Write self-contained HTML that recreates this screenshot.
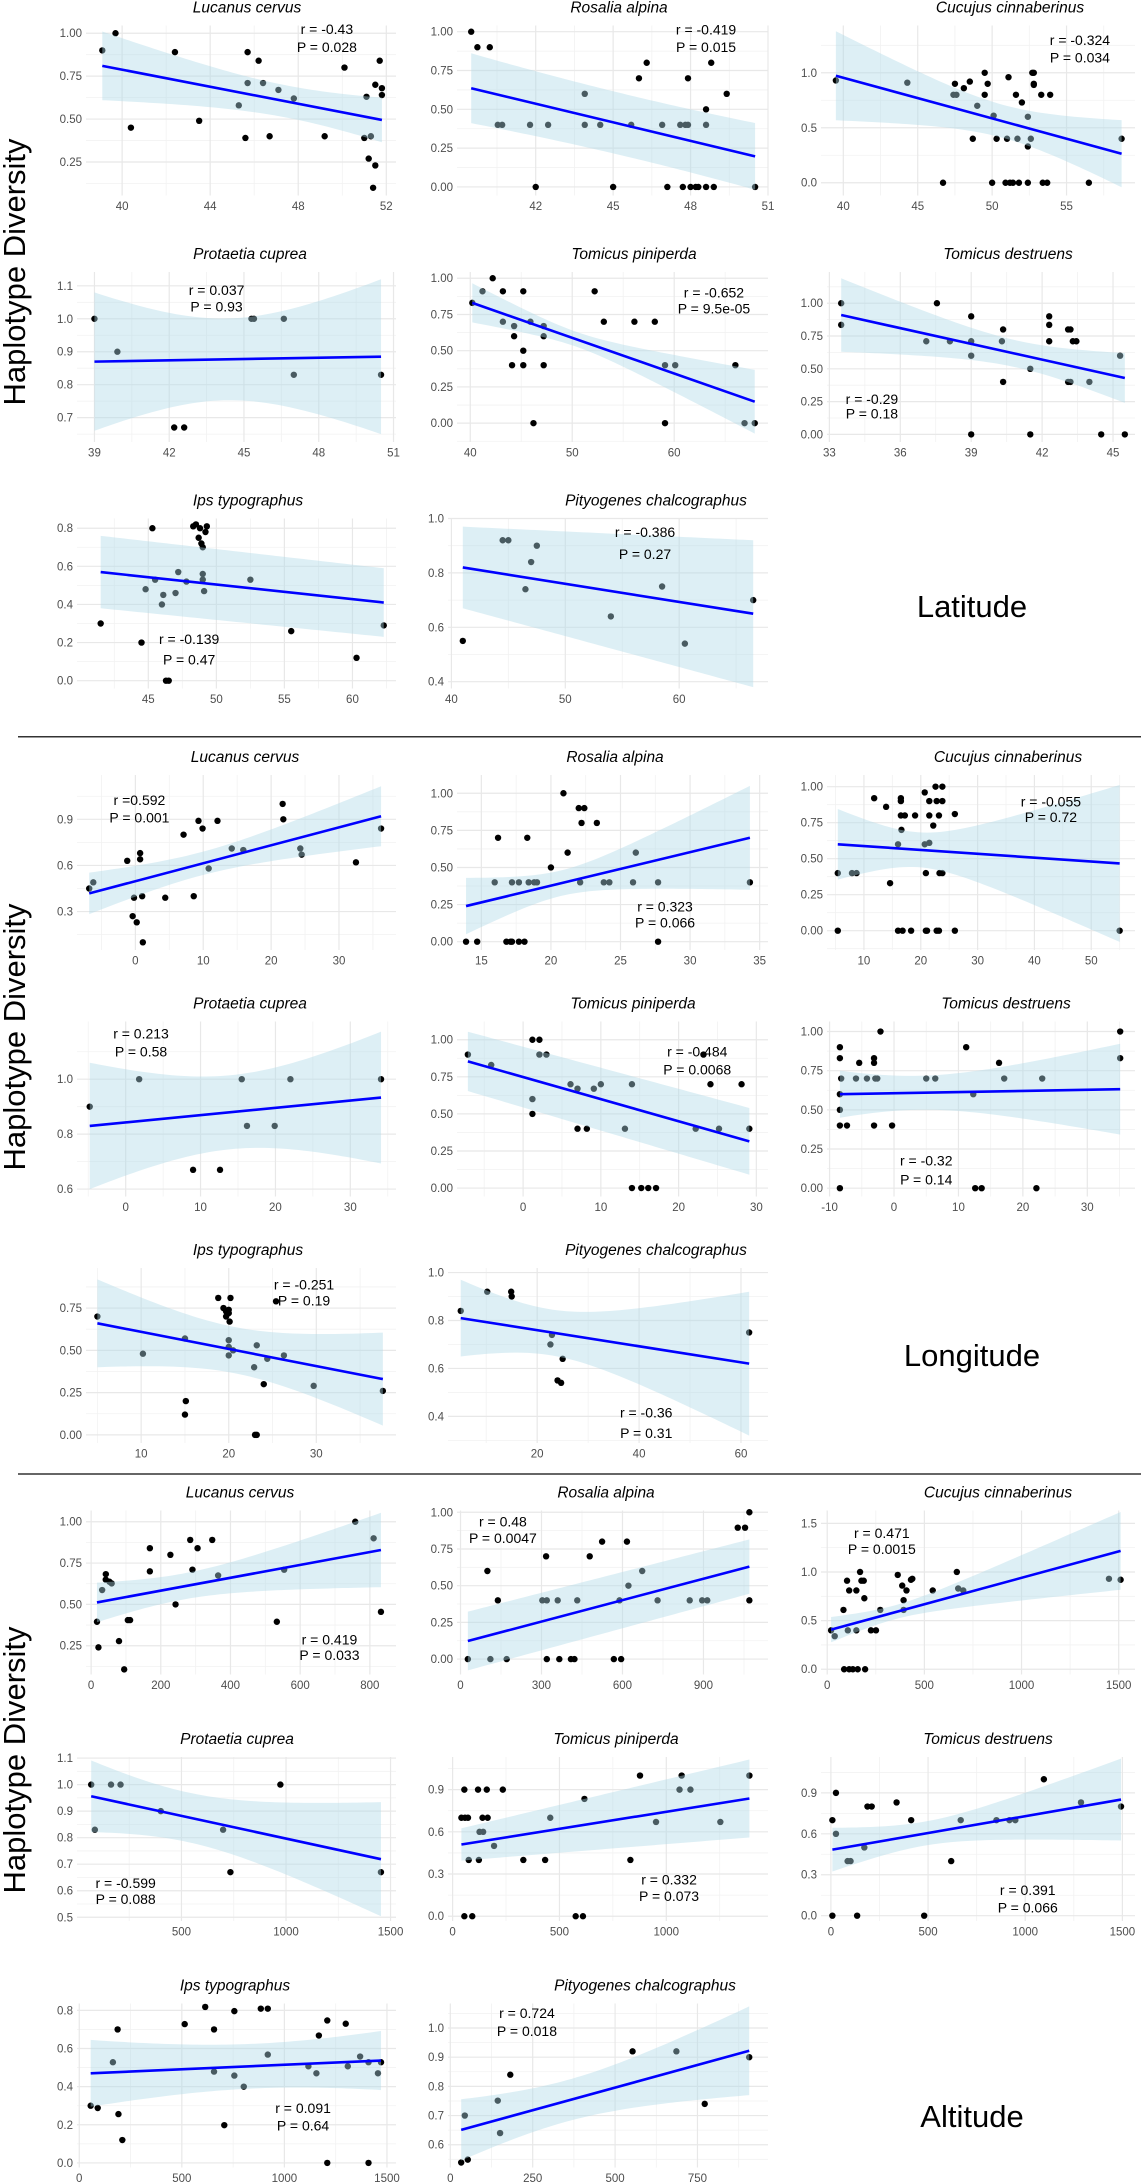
<!DOCTYPE html>
<html><head><meta charset="utf-8"><title>Haplotype diversity vs latitude, longitude and altitude</title>
<style>
html,body{margin:0;padding:0;background:#fff;}
svg{display:block;font-family:"Liberation Sans",Arial,sans-serif;}
</style></head>
<body>
<svg id="fig" width="1141" height="2184" viewBox="0 0 1141 2184" xmlns="http://www.w3.org/2000/svg">
<rect x="0" y="0" width="1141" height="2184" fill="#ffffff"/>
<line x1="18" y1="736.7" x2="1141" y2="736.7" stroke="#333" stroke-width="1.5"/>
<line x1="18" y1="1474" x2="1141" y2="1474" stroke="#333" stroke-width="1.5"/>
<text transform="translate(25,272) rotate(-90)" text-anchor="middle" font-size="31" fill="#000">Haplotype Diversity</text>
<text transform="translate(25,1037) rotate(-90)" text-anchor="middle" font-size="31" fill="#000">Haplotype Diversity</text>
<text transform="translate(25,1760) rotate(-90)" text-anchor="middle" font-size="31" fill="#000">Haplotype Diversity</text>
<text x="972" y="617" text-anchor="middle" font-size="31" fill="#000">Latitude</text>
<text x="972" y="1366" text-anchor="middle" font-size="31" fill="#000">Longitude</text>
<text x="972" y="2127" text-anchor="middle" font-size="31" fill="#000">Altitude</text>
<defs id="defs"></defs>
</svg>
<script>
// ---------- data arrays ----------
const lucLatX=[39.1,39.7,40.4,42.4,43.5,45.3,45.6,45.7,45.7,46.2,46.4,46.7,47.1,47.8,49.2,50.1,51.0,51.1,51.2,51.3,51.4,51.5,51.5,51.7,51.8,51.8];
const lucLatY=[0.90,1.00,0.45,0.89,0.49,0.58,0.39,0.89,0.71,0.84,0.71,0.40,0.67,0.62,0.40,0.80,0.39,0.63,0.27,0.40,0.10,0.23,0.70,0.84,0.64,0.68];
const rosLatX=[39.5,39.74,40.22,40.53,40.7,41.78,42.48,43.9,43.9,44.5,45.7,46.0,46.3,46.9,47.6,47.8,47.9,47.9,48.6,48.6,48.8,49.4,42.0,45.0,47.1,47.7,48.0,48.2,48.3,48.6,48.9,50.5];
const rosLatY=[1,0.9,0.9,0.4,0.4,0.4,0.4,0.6,0.4,0.4,0.4,0.7,0.8,0.4,0.4,0.4,0.4,0.7,0.4,0.5,0.8,0.6,0,0,0,0,0,0,0,0,0,0];
const cucLatX=[39.5,44.3,46.7,47.4,47.6,47.5,48.1,48.5,48.7,49.0,49.5,49.5,49.7,50.0,50.1,50.3,50.9,51.0,51.1,51.2,51.4,51.6,51.7,51.8,52.0,52.4,52.4,52.4,52.6,52.7,52.8,52.8,52.8,53.3,53.4,53.7,53.9,56.5,58.7];
const cucLatY=[0.93,0.91,0,0.80,0.80,0.90,0.86,0.92,0.40,0.70,1.0,0.80,0.90,0,0.61,0.40,0,0.40,0.96,0,0,0.80,0.40,0,0.73,0.33,0.60,0,0.40,1.0,1.0,0.90,0.89,0.80,0,0,0.80,0,0.40];
const proLatX=[39.0,39.92,42.2,42.6,45.3,45.4,46.6,47.0,50.5];
const proLatY=[1,0.9,0.67,0.67,1,1,1,0.83,0.83];
const tpiLatX=[40.2,41.2,42.2,43.2,45.2,52.2,43.2,44.3,45.9,47.2,44.3,47.2,53.1,56.1,58.1,45.2,44.1,45.2,47.2,59.1,60.1,66.0,46.2,59.1,66.9,67.9];
const tpiLatY=[0.83,0.91,1,0.91,0.91,0.91,0.7,0.67,0.7,0.67,0.6,0.6,0.7,0.7,0.7,0.5,0.4,0.4,0.4,0.4,0.4,0.4,0,0,0,0];
const tdeLatX=[33.5,33.5,37.55,39.0,40.35,42.3,42.3,43.1,43.2,37.1,38.1,39.0,40.3,42.3,43.3,43.45,39.0,40.35,41.5,43.1,43.2,44.0,45.3,39.0,41.5,44.5,45.5];
const tdeLatY=[1,0.835,1,0.9,0.8,0.9,0.835,0.8,0.8,0.71,0.71,0.71,0.71,0.71,0.71,0.71,0.6,0.4,0.5,0.4,0.4,0.4,0.6,0,0,0,0];
const ipsLatX=[41.5,44.5,44.8,45.3,45.5,46,46.1,46.3,46.5,47,47.2,47.8,48.3,48.5,48.8,48.7,48.9,49,49,49,49.1,49.2,49.3,52.5,55.5,60.3,62.3];
const ipsLatY=[0.30,0.20,0.48,0.80,0.53,0.40,0.45,0,0,0.46,0.57,0.52,0.81,0.82,0.80,0.75,0.72,0.70,0.56,0.53,0.47,0.78,0.81,0.53,0.26,0.12,0.29];
const pitLatX=[41,44.5,45,46.5,47,47.5,54,58.5,60.5,66.5];
const pitLatY=[0.55,0.92,0.92,0.74,0.84,0.90,0.64,0.75,0.54,0.70];

const lucLonX=[-6.8,-6.2,-1.2,-0.4,-0.2,0.2,0.7,0.7,1.0,1.1,4.4,7.1,8.6,9.3,9.9,10.8,12.1,14.2,15.9,21.7,21.8,24.3,24.5,32.5,36.2];
const lucLonY=[0.45,0.49,0.63,0.27,0.39,0.23,0.64,0.68,0.40,0.10,0.39,0.80,0.40,0.89,0.84,0.58,0.89,0.71,0.70,1.0,0.90,0.71,0.67,0.62,0.84];
const rosLonX=[13.9,14.7,15.96,16.2,16.8,17.1,17.2,17.2,17.7,17.7,18.1,18.3,18.4,18.8,19.0,20.0,20.9,21.2,22.0,22.1,22.4,22.2,23.3,23.8,24.2,25.9,26.1,27.7,27.7,34.3];
const rosLonY=[0,0,0.4,0.7,0,0,0.4,0,0.4,0,0,0.7,0.4,0.4,0.4,0.5,1.0,0.6,0.9,0.4,0.9,0.8,0.8,0.4,0.4,0.4,0.6,0.4,0,0.4];
const cucLonX=[5.4,5.4,7.9,8.7,11.8,13.9,14.6,16.0,16.0,16.5,16.5,16.5,16.6,16.8,17.2,18.3,19.0,20.7,20.7,20.9,20.9,21.1,21.5,21.5,21.5,22.2,22.6,22.8,22.8,23.2,23.2,23.3,23.8,23.8,23.8,26.0,26.0,55.0];
const cucLonY=[0.4,0,0.4,0.4,0.92,0.86,0.33,0,0.6,0.92,0.9,0.8,0.7,0,0.8,0,0.8,0.96,0.6,0.4,0,0,0.61,0.8,0.9,0.73,1.0,0.9,0,0,0.8,0.4,1.0,0.4,0.9,0,0.81,0];
const proLonX=[-4.8,1.8,9.0,12.6,15.5,16.2,19.9,22.0,34.1];
const proLonY=[0.9,1,0.67,0.67,1,0.83,0.83,1,1];
const tpiLonX=[-7.1,-4.1,1.2,2.1,2.1,3.0,1.2,1.2,6.1,7.0,7.0,8.2,9.1,10.0,13.1,14.0,14.0,15.2,16.1,17.1,22.2,23.2,24.1,25.2,28.1,29.1];
const tpiLonY=[0.9,0.83,1,1,0.9,0.9,0.6,0.5,0.7,0.67,0.4,0.4,0.67,0.7,0.4,0.7,0,0,0,0,0.4,0.9,0.7,0.4,0.7,0.4];
const tdeLonX=[-8.4,-8.4,-8.2,-8.4,-8.4,-8.4,-7.3,-8.4,-5.9,-5.4,-4.2,-3.1,-3.1,-2.9,-2.6,-3.1,-2.1,-0.3,5.0,6.4,11.2,12.3,12.6,13.6,16.3,17.1,22.1,23.0,35.1,35.1];
const tdeLonY=[0.9,0.83,0.7,0.6,0.5,0.4,0.4,0,0.7,0.8,0.7,0.83,0.8,0.7,0.7,0.4,1,0.4,0.7,0.7,0.9,0.6,0,0,0.8,0.7,0,0.7,1,0.83];
const ipsLonX=[5.0,10.2,15.0,15.1,15.0,18.8,19.4,19.7,19.7,20.0,20.0,20.2,20.1,20.0,20.0,20.0,20.5,22.9,23.0,23.2,23.2,24.0,24.4,25.4,26.3,29.7,37.6];
const ipsLonY=[0.70,0.48,0.57,0.20,0.12,0.81,0.75,0.73,0.70,0.72,0.74,0.81,0.67,0.56,0.52,0.47,0.50,0.40,0,0.53,0,0.30,0.45,0.79,0.47,0.29,0.26];
const pitLonX=[5.0,10.2,14.9,15.0,22.6,22.9,24.0,24.7,25.0,61.6];
const pitLonY=[0.84,0.92,0.92,0.90,0.70,0.74,0.55,0.54,0.64,0.75];

const lucAltX=[16.8,21,31.6,42.2,42,52.7,59,80,94.9,105.4,111.8,168.6,168.6,227.5,242.3,284.4,290.8,305.5,347.6,364.5,533,554,758.1,810.8,831.8];
const lucAltY=[0.395,0.24,0.587,0.683,0.65,0.637,0.627,0.278,0.107,0.405,0.405,0.70,0.84,0.80,0.50,0.89,0.71,0.84,0.89,0.675,0.395,0.71,1.0,0.90,0.455];
const rosAltX=[27.2,99.6,110.7,138.3,171,303,317,319.7,319.7,360,366,409,422,432.4,478.6,524.5,568,589,595,616.5,622,673,730,849,895,914,1027,1054,1070,1070];
const rosAltY=[0,0.6,0,0.4,0,0.4,0.7,0.4,0,0.4,0,0,0,0.4,0.7,0.8,0,0.4,0,0.8,0.5,0.6,0.4,0.4,0.4,0.4,0.895,0.895,1,0.4];
const cucAltX=[19.9,38.6,83.6,87,102,106,113,113,132,150,150,157,169,176,188,191,195,225,251,273,363,386,393,393,408,431,438,543,667,674,700,1450,1510];
const cucAltY=[0.40,0.34,0.61,0,0.91,0.40,0.81,0,0,0.40,0.81,0,1.0,0.91,0.91,0.73,0,0.40,0.40,0.61,0.97,0.86,0.61,0.71,0.81,0.92,0.93,0.81,1.0,0.83,0.81,0.93,0.92];
const proAltX=[68.2,85.7,163,208.5,401,699,734,973,1454];
const proAltY=[1,0.83,1,1,0.9,0.83,0.67,1,0.67];
const tpiAltX=[41.2,58,55,72,75.5,55,92,119,123,126,143,140,160,164,194,235,331,433,457,576,610,617,832,877,952,1062,1072,1113,1253,1389];
const tpiAltY=[0.7,0.7,0.9,0.7,0.4,0,0,0.9,0.4,0.6,0.6,0.7,0.9,0.7,0.5,0.9,0.4,0.4,0.7,0,0,0.834,0.4,1,0.67,0.9,1,0.9,0.67,1];
const tdeAltX=[7.6,7.6,26,26,135,172,86,101,188,210,338,413,480,619,668,852,919,949,1096,1287,1493];
const tdeAltY=[0.7,0,0.9,0.6,0,0.5,0.4,0.4,0.8,0.8,0.83,0.7,0,0.4,0.7,0.7,0.7,0.7,1,0.83,0.8];
const ipsAltX=[55.7,90,164,187,191,210,514,614,657,657,707,756,756,802,885,919,919,1117,1156,1168,1209,1209,1299,1309,1369,1410,1410,1456,1471];
const ipsAltY=[0.30,0.288,0.528,0.70,0.256,0.12,0.728,0.818,0.70,0.479,0.198,0.796,0.458,0.40,0.809,0.809,0.568,0.507,0.47,0.668,0.747,0,0.73,0.507,0.558,0,0.528,0.47,0.528];
const pitAltX=[33,53,44,144,151,182,553,686,772,907];
const pitAltY=[0.539,0.549,0.70,0.751,0.64,0.84,0.92,0.92,0.74,0.90];

// fitted line values at min/max x, and CI half-widths at the ends
const fitLat=[[0.81,0.495],[0.636,0.197],[0.973,0.264],[0.87,0.885],[0.83,0.148],[0.91,0.43],[0.57,0.41],[0.82,0.65]];
const ciLat=[[0.20,0.13],[0.225,0.215],[0.405,0.305],[0.21,0.235],[0.135,0.22],[0.28,0.19],[0.19,0.18],[0.15,0.27]];
const fitLon=[[0.418,0.92],[0.24,0.70],[0.60,0.467],[0.83,0.933],[0.854,0.315],[0.60,0.632],[0.66,0.33],[0.81,0.62]];
const ciLon=[[0.135,0.195],[0.19,0.35],[0.245,0.545],[0.23,0.24],[0.20,0.225],[0.15,0.29],[0.26,0.275],[0.16,0.30]];
const fitAlt=[[0.512,0.829],[0.123,0.63],[0.407,1.217],[0.956,0.719],[0.51,0.837],[0.484,0.851],[0.47,0.537],[0.651,0.922]];
const ciAlt=[[0.12,0.225],[0.20,0.185],[0.13,0.40],[0.135,0.215],[0.115,0.277],[0.16,0.30],[0.175,0.155],[0.105,0.152]];

const rLabels=["r = -0.43","r = -0.419","r = -0.324","r = 0.037","r = -0.652","r = -0.29","r = -0.139","r = -0.386",
 "r =0.592","r = 0.323","r = -0.055","r = 0.213","r = -0.484","r = -0.32","r = -0.251","r = -0.36",
 "r = 0.419","r = 0.48","r = 0.471","r = -0.599","r = 0.332","r = 0.391","r = 0.091","r = 0.724"];
const pLabels=["P = 0.028","P = 0.015","P = 0.034","P = 0.93","P = 9.5e-05","P = 0.18","P = 0.47","P = 0.27",
 "P = 0.001","P = 0.066","P = 0.72","P = 0.58","P = 0.0068","P = 0.14","P = 0.19","P = 0.31",
 "P = 0.033","P = 0.0047","P = 0.0015","P = 0.088","P = 0.073","P = 0.066","P = 0.64","P = 0.018"];
const statX=[49.3,48.6,55.9,43.9,63.9,34.8,48,57, 0.6,28.2,42.9,2.05,22.4,5.0,28.6,41.4, 684,157,281,233,1013,1013,1091,232.6];
const statRY=[1.025,1.015,1.30,1.088,0.90,0.27,0.22,0.95, 1.026,0.236,0.896,1.167,0.92,0.177,0.888,0.417, 0.288,0.936,1.40,0.629,0.26,0.19,0.288,1.051];
const statPY=[0.92,0.90,1.14,1.037,0.79,0.16,0.11,0.87, 0.913,0.128,0.79,1.10,0.80,0.057,0.795,0.33, 0.194,0.823,1.234,0.569,0.142,0.061,0.195,0.99];

const species=["Lucanus cervus","Rosalia alpina","Cucujus cinnaberinus","Protaetia cuprea","Tomicus piniperda","Tomicus destruens","Ips typographus","Pityogenes chalcographus"];
const slugs=["lucanus-cervus","rosalia-alpina","cucujus-cinnaberinus","protaetia-cuprea","tomicus-piniperda","tomicus-destruens","ips-typographus","pityogenes-chalcographus"];
const sections=["latitude","longitude","altitude"];

const xsAll=[lucLatX,rosLatX,cucLatX,proLatX,tpiLatX,tdeLatX,ipsLatX,pitLatX,lucLonX,rosLonX,cucLonX,proLonX,tpiLonX,tdeLonX,ipsLonX,pitLonX,lucAltX,rosAltX,cucAltX,proAltX,tpiAltX,tdeAltX,ipsAltX,pitAltX];
const ysAll=[lucLatY,rosLatY,cucLatY,proLatY,tpiLatY,tdeLatY,ipsLatY,pitLatY,lucLonY,rosLonY,cucLonY,proLonY,tpiLonY,tdeLonY,ipsLonY,pitLonY,lucAltY,rosAltY,cucAltY,proAltY,tpiAltY,tdeAltY,ipsAltY,pitAltY];
const fitAll=fitLat.concat(fitLon,fitAlt);
const ciAll=ciLat.concat(ciLon,ciAlt);

// axis domains and ticks
const xDomains=[[38.36,52.44],[38.95,51.0],[38.5,59.6],[38.3,51.1],[38.7,69.2],[32.9,45.93],[39.76,63.2],[39.7,67.8],
 [-8.6,38.4],[13.25,35.6],[3.5,57.7],[-6.5,36.1],[-8.5,31.5],[-10.4,37.4],[3.7,39.1],[2.5,65.3],
 [-14.7,875],[-13,1139],[-32,1584],[0.3,1526],[-21.5,1476],[-51,1565],[-11,1544],[-7,964]];
const yDomains=[[0.055,1.045],[-0.055,1.04],[-0.116,1.43],[0.626,1.142],[-0.13,1.043],[-0.058,1.238],[-0.041,0.851],[0.375,1.0],
 [0.05,1.188],[-0.056,1.123],[-0.134,1.081],[0.573,1.21],[-0.057,1.123],[-0.053,1.064],[-0.048,0.987],[0.289,1.019],
 [0.076,1.068],[-0.105,1.012],[-0.054,1.632],[0.486,1.104],[-0.034,1.132],[-0.039,1.163],[-0.024,0.836],[0.522,1.084]];
const xTicks=[[40,44,48,52],[42,45,48,51],[40,45,50,55],[39,42,45,48,51],[40,50,60],[33,36,39,42,45],[45,50,55,60],[40,50,60],
 [0,10,20,30],[15,20,25,30,35],[10,20,30,40,50],[0,10,20,30],[0,10,20,30],[-10,0,10,20,30],[10,20,30],[20,40,60],
 [0,200,400,600,800],[0,300,600,900],[0,500,1000,1500],[500,1000,1500],[0,500,1000],[0,500,1000,1500],[0,500,1000,1500],[0,250,500,750]];
const yTicks=[[0.25,0.5,0.75,1],[0,0.25,0.5,0.75,1],[0,0.5,1],[0.7,0.8,0.9,1.0,1.1],[0,0.25,0.5,0.75,1],[0,0.25,0.5,0.75,1],[0,0.2,0.4,0.6,0.8],[0.4,0.6,0.8,1.0],
 [0.3,0.6,0.9],[0,0.25,0.5,0.75,1],[0,0.25,0.5,0.75,1],[0.6,0.8,1.0],[0,0.25,0.5,0.75,1],[0,0.25,0.5,0.75,1],[0,0.25,0.5,0.75],[0.4,0.6,0.8,1.0],
 [0.25,0.5,0.75,1],[0,0.25,0.5,0.75,1],[0,0.5,1,1.5],[0.5,0.6,0.7,0.8,0.9,1.0,1.1],[0,0.3,0.6,0.9],[0,0.3,0.6,0.9,1.2],[0,0.2,0.4,0.6,0.8],[0.6,0.7,0.8,0.9,1.0,1.1]];
const yDecimals=[2,2,1,1,2,2,1,1, 1,2,2,1,2,2,2,1, 2,2,1,1,1,1,1,1];

// ---------- layout (pixels, not data) ----------
const SEC_TOP=[25.5,775,1510.5], SEC_H=[170,175,164], ROW_PITCH=246.5;
const COL_LEFT=[{4:86,3:77},{4:457,3:448},{4:827,3:821}];
const COL_RIGHT=[396,768,1135];
const TITLE_X=[247,619,1010,250,634,1008,248,656, 245,615,1008,250,633,1006,248,656, 240,606,998,237,616,988,235,645];

const NS="http://www.w3.org/2000/svg";
const svg=document.getElementById('fig');
const defs=document.getElementById('defs');
function mk(tag,attrs,parent){const e=document.createElementNS(NS,tag);for(const k in attrs)e.setAttribute(k,attrs[k]);(parent||svg).appendChild(e);return e;}

for(let i=0;i<24;i++){
  const s=Math.floor(i/8), k=i%8, r=Math.floor(k/3), c=k%3;
  const dec=yDecimals[i];
  const labChars=Math.max(...yTicks[i].map(v=>v.toFixed(dec).length));
  const L=COL_LEFT[c][labChars>=4?4:3], R=COL_RIGHT[c];
  const T=SEC_TOP[s]+r*ROW_PITCH, B=T+SEC_H[s];
  const xd=xDomains[i], yd=yDomains[i];
  const sx=v=>L+(v-xd[0])/(xd[1]-xd[0])*(R-L);
  const sy=v=>B-(v-yd[0])/(yd[1]-yd[0])*(B-T);
  const g=mk('g',{});
  
  

  // minor grid
  const xt=xTicks[i], yt=yTicks[i];
  const minorX=[], minorY=[];
  const stx=xt[1]-xt[0], sty=yt[1]-yt[0];
  for(let j=-1;j<xt.length;j++){const v=(j<0?xt[0]-stx/2:xt[j]+stx/2);if(v>xd[0]&&v<xd[1])minorX.push(v);}
  for(let j=-1;j<yt.length;j++){const v=(j<0?yt[0]-sty/2:yt[j]+sty/2);if(v>yd[0]&&v<yd[1])minorY.push(v);}
  minorX.forEach(v=>{const l=mk('line',{x1:sx(v),x2:sx(v),y1:T,y2:B,stroke:'#f2f2f2','stroke-width':0.8},g);
    
    });
  minorY.forEach(v=>{const l=mk('line',{x1:L,x2:R,y1:sy(v),y2:sy(v),stroke:'#f2f2f2','stroke-width':0.8},g);
    
    });
  xt.forEach(v=>{if(v<xd[0]||v>xd[1])return;
    const l=mk('line',{x1:sx(v),x2:sx(v),y1:T,y2:B,stroke:'#e8e8e8','stroke-width':1.2},g);
    
    
    const t=mk('text',{x:sx(v),y:B+14.5,'text-anchor':'middle','font-size':11.5,fill:'#4d4d4d'},g);t.textContent=String(v);
    
    });
  yt.forEach(v=>{if(v<yd[0]||v>yd[1])return;
    const l=mk('line',{x1:L,x2:R,y1:sy(v),y2:sy(v),stroke:'#e8e8e8','stroke-width':1.2},g);
    
    
    const t=mk('text',{x:L-4,y:sy(v)+4,'text-anchor':'end','font-size':11.5,fill:'#4d4d4d'},g);t.textContent=v.toFixed(dec);
    
    });

  // title
  const ti=mk('text',{x:TITLE_X[i],y:T-13,'text-anchor':'middle','font-size':15.5,'font-style':'italic',fill:'#000'},g);
  ti.textContent=species[k];
  
  

  // points
  const X=xsAll[i], Y=ysAll[i];
  X.forEach((xv,j)=>{const p=mk('circle',{cx:sx(xv),cy:sy(Y[j]),r:3.2,fill:'#000'},g);
    
    });

  // clip
  const cp=mk('clipPath',{id:'clip'+i},defs);
  mk('rect',{x:L,y:T,width:R-L,height:B-T},cp);

  // confidence band
  const x0=Math.min(...X), x1=Math.max(...X);
  const m=X.reduce((a,b)=>a+b,0)/X.length;
  const f=fitAll[i], h=ciAll[i];
  const fit=v=>f[0]+(f[1]-f[0])*(v-x0)/(x1-x0);
  const d0=(x0-m)**2, d1=(x1-m)**2;
  let bb=(h[0]*h[0]-h[1]*h[1])/(d0-d1), aa=h[0]*h[0]-bb*d0;
  const hw=v=>{ if(bb>0&&aa>=0) return Math.sqrt(aa+bb*(v-m)**2); return h[0]+(h[1]-h[0])*(v-x0)/(x1-x0); };
  const N=60; let up=[],lo=[];
  for(let q=0;q<=N;q++){const v=x0+(x1-x0)*q/N;up.push(sx(v).toFixed(2)+','+sy(fit(v)+hw(v)).toFixed(2));lo.push(sx(v).toFixed(2)+','+sy(fit(v)-hw(v)).toFixed(2));}
  const band=mk('path',{d:'M'+up.join('L')+'L'+lo.reverse().join('L')+'Z',fill:'rgb(173,216,230)','fill-opacity':0.42,'clip-path':'url(#clip'+i+')'},g);
  
  
  const ln=mk('line',{x1:sx(x0),y1:sy(fit(x0)),x2:sx(x1),y2:sy(fit(x1)),stroke:'#0000ff','stroke-width':2.6,'clip-path':'url(#clip'+i+')'},g);
  
  

  // stats
  const tr=mk('text',{x:sx(statX[i]),y:sy(statRY[i])+5,'text-anchor':'middle','font-size':14,fill:'#000'},g);tr.textContent=rLabels[i];
  
  
  const tp=mk('text',{x:sx(statX[i]),y:sy(statPY[i])+5,'text-anchor':'middle','font-size':14,fill:'#000'},g);tp.textContent=pLabels[i];
  
  
}
</script>
</body></html>
